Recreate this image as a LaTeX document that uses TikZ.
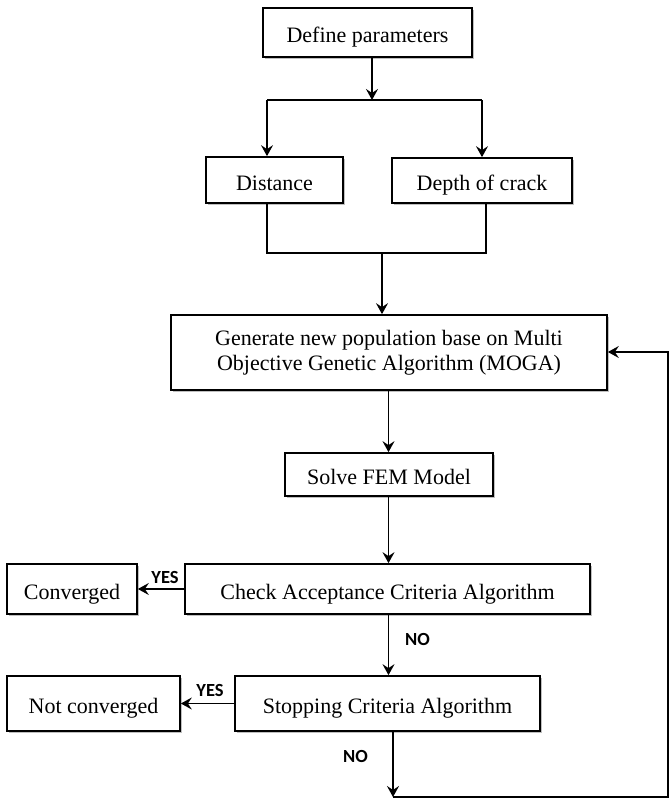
\documentclass[tikz,border=0pt]{standalone}
\usepackage{fontspec}
\setmainfont{Liberation Serif}
\newfontfamily\labfont{Carlito}
\usetikzlibrary{arrows.meta,shadows}
\begin{document}
\begin{tikzpicture}[x=1pt,y=-1pt,
  line width=1.7pt,
  box/.style={draw=black, fill=white, inner sep=0pt, align=center,
    font=\fontsize{22}{25}\selectfont,
    drop shadow={shadow xshift=1.5pt,shadow yshift=-2pt,opacity=0.25,fill=black}},
  oneline/.style={text height=20pt, text depth=0pt},
  arr/.style={-{Stealth[length=11pt,width=12pt,inset=4pt]}},
  lab/.style={inner sep=0pt, font=\labfont\bfseries\fontsize{18.5}{20}\selectfont}
]
\useasboundingbox (0,0) rectangle (670,800);

\node[box, oneline, minimum width=209pt, minimum height=49pt] (def) at (367.5,32.5) {Define parameters};
\node[box, oneline, minimum width=137pt, minimum height=46pt] (dist) at (274.5,180) {Distance};
\node[box, oneline, minimum width=180pt, minimum height=45pt] (depth) at (482,180.5) {Depth of crack};
\node[box, minimum width=436pt, minimum height=75pt] (gen) at (389,352.5)
  {Generate new population base on Multi\\Objective Genetic Algorithm (MOGA)};
\node[box, oneline, minimum width=208pt, minimum height=43pt] (solve) at (389,474.5) {Solve FEM Model};
\node[box, oneline, minimum width=405pt, minimum height=50pt] (check) at (387.5,589) {Check Acceptance Criteria Algorithm};
\node[box, oneline, minimum width=130pt, minimum height=50pt] (conv) at (72,589) {Converged};
\node[box, oneline, minimum width=305pt, minimum height=55pt] (stop) at (387.5,703.5) {Stopping Criteria Algorithm};
\node[box, oneline, minimum width=173pt, minimum height=55pt] (nconv) at (93.5,703.5) {Not converged};

% split
\coordinate (j1) at (372,100);
\coordinate (jl) at (267,100);
\coordinate (jr) at (482,100);
\draw[arr] (def.south -| j1) -- (j1);
\draw (jl) -- (jr);
\draw[arr] (jl) -- (dist.north -| jl);
\draw[arr] (jr) -- (depth.north -| jr);

% merge
\coordinate (m1) at (267,253);
\coordinate (m2) at (486,253);
\coordinate (m3) at (382,253);
\draw (dist.south -| m1) -- (m1) -- (m2) -- (depth.south -| m2);
\draw[arr] (m3) -- (gen.north -| m3);

% main flow
\coordinate (c1) at (388.5,0);
\draw[arr] (gen.south -| c1) -- (solve.north -| c1);
\draw[arr] (solve.south -| c1) -- (check.north -| c1);
\draw[arr] (check.south -| c1) -- (stop.north -| c1);
\draw[arr] (check.west) -- (conv.east);
\draw[arr] (stop.west) -- (nconv.east);

% loop back
\coordinate (b1) at (393,797);
\coordinate (b2) at (668,797);
\coordinate (b3) at (668,352);
\draw[arr] (stop.south -| b1) -- (b1);
\draw[arr] (b1) -- (b2) -- (b3) -- (gen.east |- b3);

% labels
\node[lab] (y1) at (165,577) {YES};
\node[lab] (y2) at (210,690) {YES};
\node[lab] (n1) at (417.5,639) {NO};
\node[lab] (n2) at (355.5,756) {NO};
\end{tikzpicture}
\end{document}
